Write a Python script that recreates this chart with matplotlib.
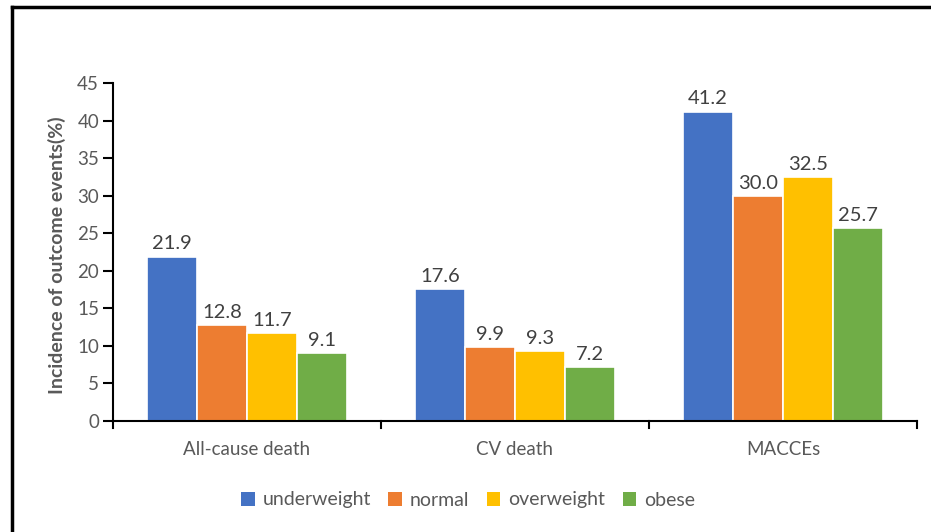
import matplotlib
matplotlib.use("Agg")
import matplotlib.pyplot as plt
from matplotlib.lines import Line2D
from matplotlib.patches import Patch
import numpy as np

categories = ["All-cause death", "CV death", "MACCEs"]
groups = ["underweight", "normal", "overweight", "obese"]
underweight = [21.9, 17.6, 41.2]
normal = [12.8, 9.9, 30.0]
overweight = [11.7, 9.3, 32.5]
obese = [9.1, 7.2, 25.7]
series = [underweight, normal, overweight, obese]
colors = ["#4472C4", "#ED7D31", "#FFC000", "#70AD47"]
yticks = [0, 5, 10, 15, 20, 25, 30, 35, 40, 45]

plt.rcParams['font.family'] = ['Lato', 'DejaVu Sans']
gray = "#595959"

fig = plt.figure(figsize=(9.31, 5.32), dpi=100)
ax = fig.add_axes([113/931, 1-421/532, (917-113)/931, (421-83)/532])

x = np.arange(len(categories))
w = 0.187
for i, (vals, c) in enumerate(zip(series, colors)):
    pos = x + (i - 1.5) * w
    ax.bar(pos, vals, width=w, color=c, edgecolor="white", linewidth=1.2, label=groups[i], zorder=2)
    for xp, v in zip(pos, vals):
        ax.text(xp, v + 0.55, f"{v:.1f}", ha="center", va="bottom", fontsize=14.5, color="#404040")

ax.set_xlim(-0.5, 2.5)
ax.set_ylim(0, 45)
ax.set_yticks(yticks)
ax.set_yticklabels([str(t) for t in yticks], fontsize=13.5, color=gray)
ax.set_xticks([])
for s in ["top", "right"]:
    ax.spines[s].set_visible(False)
for s in ["left", "bottom"]:
    ax.spines[s].set_linewidth(1.5)
    ax.spines[s].set_color("black")
ax.tick_params(axis="y", length=7, width=1.5, color="black", pad=3)
for b in [-0.5, 0.5, 1.5, 2.5]:
    ax.plot([b, b], [0, -0.9], color="black", lw=1.5, clip_on=False, zorder=3)
for xi, cat in zip(x, categories):
    ax.text(xi, -2.7, cat, ha="center", va="top", fontsize=13.5, color=gray)

ax.set_ylabel("Incidence of outcome events(%)", fontsize=14, fontweight="bold", color=gray)
ax.yaxis.set_label_coords(-0.059, 0.49)

handles = [Patch(facecolor=c, edgecolor="none") for c in colors]
fig.legend(handles, groups, loc="center", bbox_to_anchor=(468/931, 1-500/532), ncol=4, frameon=False,
           fontsize=14, handlelength=0.7, handleheight=0.7, handletextpad=0.4, columnspacing=0.9,
           labelcolor=gray)

fig.add_artist(Line2D([12/931, 1.0], [1-7/532, 1-7/532], color="black", lw=2.5, transform=fig.transFigure))
fig.add_artist(Line2D([12/931, 12/931], [0, 1-7/532], color="black", lw=2.5, transform=fig.transFigure))

fig.savefig("out.png", dpi=100)
